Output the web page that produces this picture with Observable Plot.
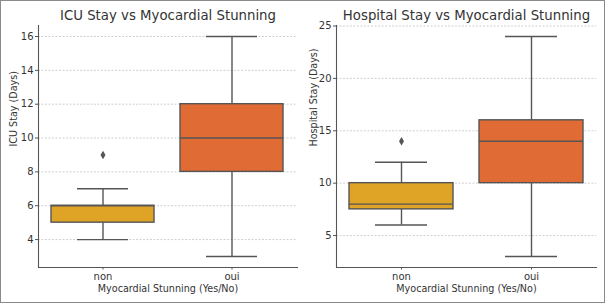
<!DOCTYPE html>
<html><head><meta charset="utf-8">
<script src="https://cdn.jsdelivr.net/npm/d3@7"></script>
<script src="https://cdn.jsdelivr.net/npm/@observablehq/plot@0.6"></script>
<style>
body{margin:0;background:#fff;}
#wrap{position:relative;width:605px;height:303px;overflow:hidden;font-family:"DejaVu Sans",sans-serif;}
#border{position:absolute;left:0;top:0;width:605px;height:303px;box-sizing:border-box;border:1px solid #8a8a8a;pointer-events:none;}
#p1{position:absolute;left:0;top:0;}
#p2{position:absolute;left:300px;top:0;}
</style></head>
<body>
<div id="wrap"><div id="p1"></div><div id="p2"></div><div id="border"></div></div>
<script>
const categories = ["non", "oui"];
const colors = ["#dfa326", "#e16b35"];

// ICU stay (days)
const icuLow = [4, 3];
const icuQ1 = [5, 8];
const icuMedian = [6, 10];
const icuQ3 = [6, 12];
const icuHigh = [7, 16];
const icuOutliers = [{cat: "non", v: 9}];
const icuTicks = [4, 6, 8, 10, 12, 14, 16];

// Hospital stay (days)
const hospLow = [6, 3];
const hospQ1 = [7.5, 10];
const hospMedian = [8, 14];
const hospQ3 = [10, 16];
const hospHigh = [12, 24];
const hospOutliers = [{cat: "non", v: 14}];
const hospTicks = [5, 10, 15, 20, 25];

function rows(lo, q1, med, q3, hi) {
  return categories.map((c, i) => ({cat: c, lo: lo[i], q1: q1[i], med: med[i], q3: q3[i], hi: hi[i], color: colors[i]}));
}

function draw({data, outliers, ticks, title, ylabel, width, marginLeft, marginRight}) {
  const mn = d3.min(data, d => d.lo), mx = d3.max([...data.map(d => d.hi), ...outliers.map(d => d.v)]);
  const pad = (mx - mn) * 0.05;
  const line = "#555";
  return Plot.plot({
    width, height: 303,
    marginLeft, marginRight, marginTop: 25, marginBottom: 36,
    style: {fontFamily: "DejaVu Sans, sans-serif", fontSize: "9.6px", color: "#333", background: "transparent"},
    x: {domain: categories, paddingInner: 0.2, paddingOuter: 0.1, label: null},
    y: {domain: [mn - pad, mx + pad], label: null},
    marks: [
      Plot.gridY(ticks, {stroke: "#c4c4c4", strokeOpacity: 1, strokeDasharray: "2,1.5", strokeWidth: 0.8}),
      Plot.ruleX(data, {x: "cat", y1: "lo", y2: "q1", stroke: line, strokeWidth: 1.4}),
      Plot.ruleX(data, {x: "cat", y1: "q3", y2: "hi", stroke: line, strokeWidth: 1.4}),
      Plot.tickY(data, {x: "cat", y: "lo", stroke: line, strokeWidth: 1.4, insetLeft: 26, insetRight: 26}),
      Plot.tickY(data, {x: "cat", y: "hi", stroke: line, strokeWidth: 1.4, insetLeft: 26, insetRight: 26}),
      Plot.barY(data, {x: "cat", y1: "q1", y2: "q3", fill: "color", stroke: line, strokeWidth: 1.4, inset: 0}),
      Plot.tickY(data, {x: "cat", y: "med", stroke: line, strokeWidth: 1.4}),
      Plot.dot(outliers, {x: "cat", y: "v", symbol: "diamond", r: 2.6, fill: line, stroke: "none"}),
      Plot.axisY(ticks, {tickSize: 3, stroke: line, tickPadding: 2, fontSize: 10, fill: "#333", label: null}),
      Plot.axisX({tickSize: 2.5, stroke: line, tickPadding: 2.5, fontSize: 10, fill: "#333", label: null}),
      Plot.text([ylabel], {frameAnchor: "left", dx: -(marginLeft - 13), rotate: -90, fontSize: 9.6, fill: "#333", lineAnchor: "middle"}),
      Plot.text(["Myocardial Stunning (Yes/No)"], {frameAnchor: "bottom", dy: 21, fontSize: 9.6, fill: "#333", lineAnchor: "middle"}),
      Plot.frame({anchor: "left", stroke: line, strokeWidth: 1.1}),
      Plot.frame({anchor: "bottom", stroke: line, strokeWidth: 1.1}),
      Plot.text([title], {frameAnchor: "top", dy: -10, fontSize: 13.3, fill: "#333", lineAnchor: "middle"})
    ]
  });
}

document.getElementById("p1").append(draw({
  data: rows(icuLow, icuQ1, icuMedian, icuQ3, icuHigh), outliers: icuOutliers, ticks: icuTicks,
  title: "ICU Stay vs Myocardial Stunning", ylabel: "ICU Stay (Days)", width: 300, marginLeft: 38, marginRight: 3
}));
document.getElementById("p2").append(draw({
  data: rows(hospLow, hospQ1, hospMedian, hospQ3, hospHigh), outliers: hospOutliers, ticks: hospTicks,
  title: "Hospital Stay vs Myocardial Stunning", ylabel: "Hospital Stay (Days)", width: 303, marginLeft: 36, marginRight: 7
}));
</script>
</body></html>
